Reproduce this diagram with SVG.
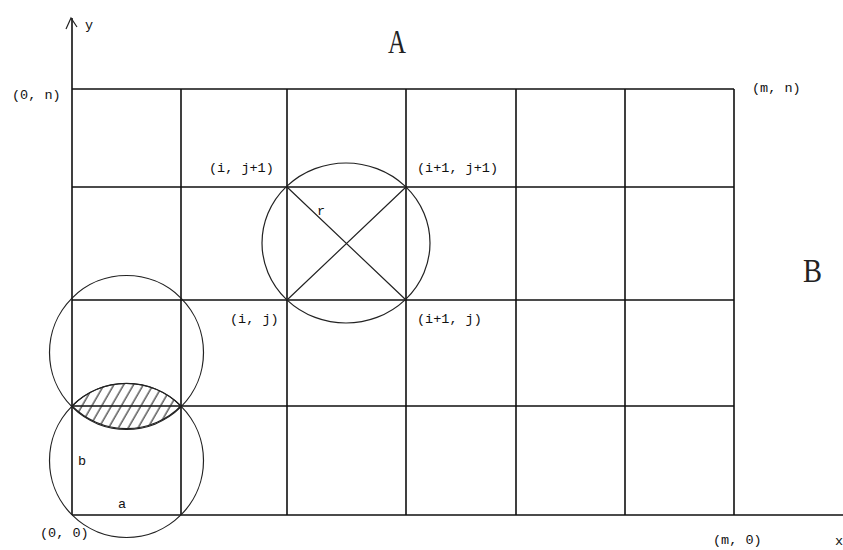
<svg xmlns="http://www.w3.org/2000/svg" width="843" height="550" viewBox="0 0 843 550">
<style>
.g{stroke:#111;stroke-width:1.6;fill:none}
.c{stroke:#222;stroke-width:1.2;fill:none}
.t{font-family:"Liberation Mono",monospace;font-size:13.5px;fill:#111}
.big{font-family:"Liberation Serif",serif;font-size:34px;fill:#222}
</style>
<defs>
<pattern id="hatch" patternUnits="userSpaceOnUse" width="8.5" height="8.5" patternTransform="rotate(30)">
<line x1="2" y1="0" x2="2" y2="8.5" stroke="#222" stroke-width="1.1"/>
</pattern>
</defs>
<rect width="843" height="550" fill="#fff"/>
<g id="grid">
<path class="g" d="M72,89H734M72,187H734M72,300H734M72,406H734M72,515H843"/>
<path class="g" d="M72,18V515M181,89V515M287,89V515M406,89V515M516,89V515M625,89V515M734,89V515"/>
<path class="c" d="M66,29L71,18L77,27"/>
</g>
<g id="connectors">
<path class="c" d="M287,187L406,300M406,187L287,300"/>
</g>
<g id="circle-center">
<ellipse class="c" cx="346" cy="243" rx="84" ry="80"/>
</g>
<g id="circle-upper">
<circle class="c" cx="126.5" cy="352.5" r="77"/>
</g>
<g id="circle-lower">
<circle class="c" cx="126.5" cy="460.5" r="77"/>
</g>
<g id="lens">
<path d="M72,406A77,77 0 0,1 181,406A77,77 0 0,1 72,406Z" fill="url(#hatch)" stroke="#222" stroke-width="1.2"/>
</g>
<g id="labels">
<text class="t" x="85" y="29">y</text>
<text class="t" x="835" y="545">x</text>
<text class="t" x="12" y="99">(0, n)</text>
<text class="t" x="752" y="92">(m, n)</text>
<text class="t" x="209" y="172">(i, j+1)</text>
<text class="t" x="417" y="172">(i+1, j+1)</text>
<text class="t" x="317" y="215">r</text>
<text class="t" x="230" y="323">(i, j)</text>
<text class="t" x="417" y="323">(i+1, j)</text>
<text class="t" x="78" y="465">b</text>
<text class="t" x="118" y="508">a</text>
<text class="t" x="40" y="537">(0, 0)</text>
<text class="t" x="713" y="544">(m, 0)</text>
<text class="big" x="388" y="53" textLength="18" lengthAdjust="spacingAndGlyphs">A</text>
<text class="big" x="803" y="282" textLength="19" lengthAdjust="spacingAndGlyphs">B</text>
</g>
</svg>
